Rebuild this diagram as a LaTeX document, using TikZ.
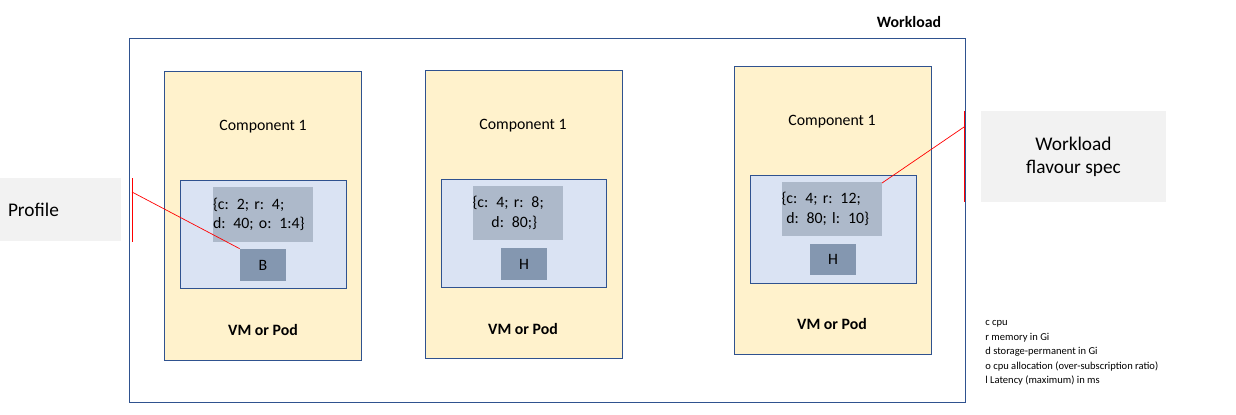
\documentclass[tikz,border=0pt]{standalone}
\usepackage{fontspec}
\setmainfont{Carlito}
\definecolor{compfill}{HTML}{FFF2CC}
\definecolor{compline}{HTML}{2F528F}
\definecolor{vmfill}{HTML}{DAE3F3}
\definecolor{specfill}{HTML}{ADB9CA}
\definecolor{flavfill}{HTML}{8497B0}
\definecolor{notefill}{HTML}{F2F2F2}
\tikzset{
  comp/.style={draw=compline, fill=compfill, thin},
  vm/.style={draw=compline, fill=vmfill, thin},
  spec/.style={fill=specfill, inner sep=0pt, align=left, font=\fontsize{9}{11}\selectfont},
  flav/.style={fill=flavfill, inner sep=0pt, font=\fontsize{9}{11}\selectfont},
  note/.style={fill=notefill, inner sep=0pt, font=\fontsize{11}{13}\selectfont, align=center},
  link/.style={draw=red, thin}
}
\begin{document}
\begin{tikzpicture}[x=0.02cm, y=-0.02cm]
\useasboundingbox (0,0) rectangle (1236,414);

\draw[compline, thin] (129,38) rectangle (965,402);
\node[font=\bfseries\fontsize{9}{11}\selectfont] (title) at (909,22) {Workload};

% first component
\draw[comp] (164,71) rectangle (361,360);
\draw[vm] (180,180) rectangle (346,288);
\node[spec, minimum width=116\pgflinewidth, text width=100*0.02cm, minimum height=55*0.02cm] (specB) at (263,214.5) {\{c: 2; r: 4;\\ d: 40; o: 1:4\}};
\node[flav, minimum width=46*0.02cm, minimum height=32*0.02cm] (B) at (263,265) {B};
\node[font=\fontsize{9}{11}\selectfont] (nameB) at (263,127) {Component 1};
\node[font=\bfseries\fontsize{9}{11}\selectfont] (podB) at (263,330) {VM or Pod};

% second component
\draw[comp] (425,70) rectangle (622,358);
\draw[vm] (441,179) rectangle (606,287);
\node[spec, text width=90*0.02cm, minimum height=54*0.02cm] (specH) at (517.5,213) {\{c: 4; r: 8;\\ \hspace{1.2em}d: 80;\}};
\node[flav, minimum width=46*0.02cm, minimum height=32*0.02cm] (H) at (524,264) {H};
\node[font=\fontsize{9}{11}\selectfont] (nameH) at (523,126) {Component 1};
\node[font=\bfseries\fontsize{9}{11}\selectfont] (podH) at (523,329) {VM or Pod};

% third component
\draw[comp] (734,66) rectangle (931,354);
\draw[vm] (750,175) rectangle (916,283);
\node[spec, text width=100*0.02cm, minimum height=54*0.02cm] (specL) at (831.5,209) {\{c: 4; r: 12;\\ \hspace{0.3em}d: 80; l: 10\}};
\node[flav, minimum width=46*0.02cm, minimum height=31*0.02cm] (HL) at (833,259.5) {H};
\node[font=\fontsize{9}{11}\selectfont] (nameL) at (832,122) {Component 1};
\node[font=\bfseries\fontsize{9}{11}\selectfont] (podL) at (832,324) {VM or Pod};

% callouts
\node[note, minimum width=121*0.02cm, minimum height=63*0.02cm] (profile) at (60.5,209.5) {\hspace*{-2.8em}Profile};
\coordinate (pTop) at (132,178);
\coordinate (pBot) at (132,242);
\coordinate (pEnd) at (132,192);
\draw[link] (pTop) -- (pBot);
\draw[link] (pEnd) -- (B.north west);

\node[note, minimum width=185*0.02cm, minimum height=91*0.02cm] (flavour) at (1073.5,156.5) {Workload\\flavour spec};
\coordinate (fTop) at (964,111);
\coordinate (fBot) at (964,202);
\coordinate (fEnd) at (964,127);
\coordinate (fTip) at (882,183);
\draw[link] (fTop) -- (fBot);
\draw[link] (fEnd) -- (fTip);

\node[anchor=north west, align=left, inner sep=0pt, font=\fontsize{6}{8.3}\selectfont] (legend) at (985,320)
  {c cpu\\ r memory in Gi\\ d storage-permanent in Gi\\ o cpu allocation (over-subscription ratio)\\ l Latency (maximum) in ms};
\end{tikzpicture}
\end{document}
